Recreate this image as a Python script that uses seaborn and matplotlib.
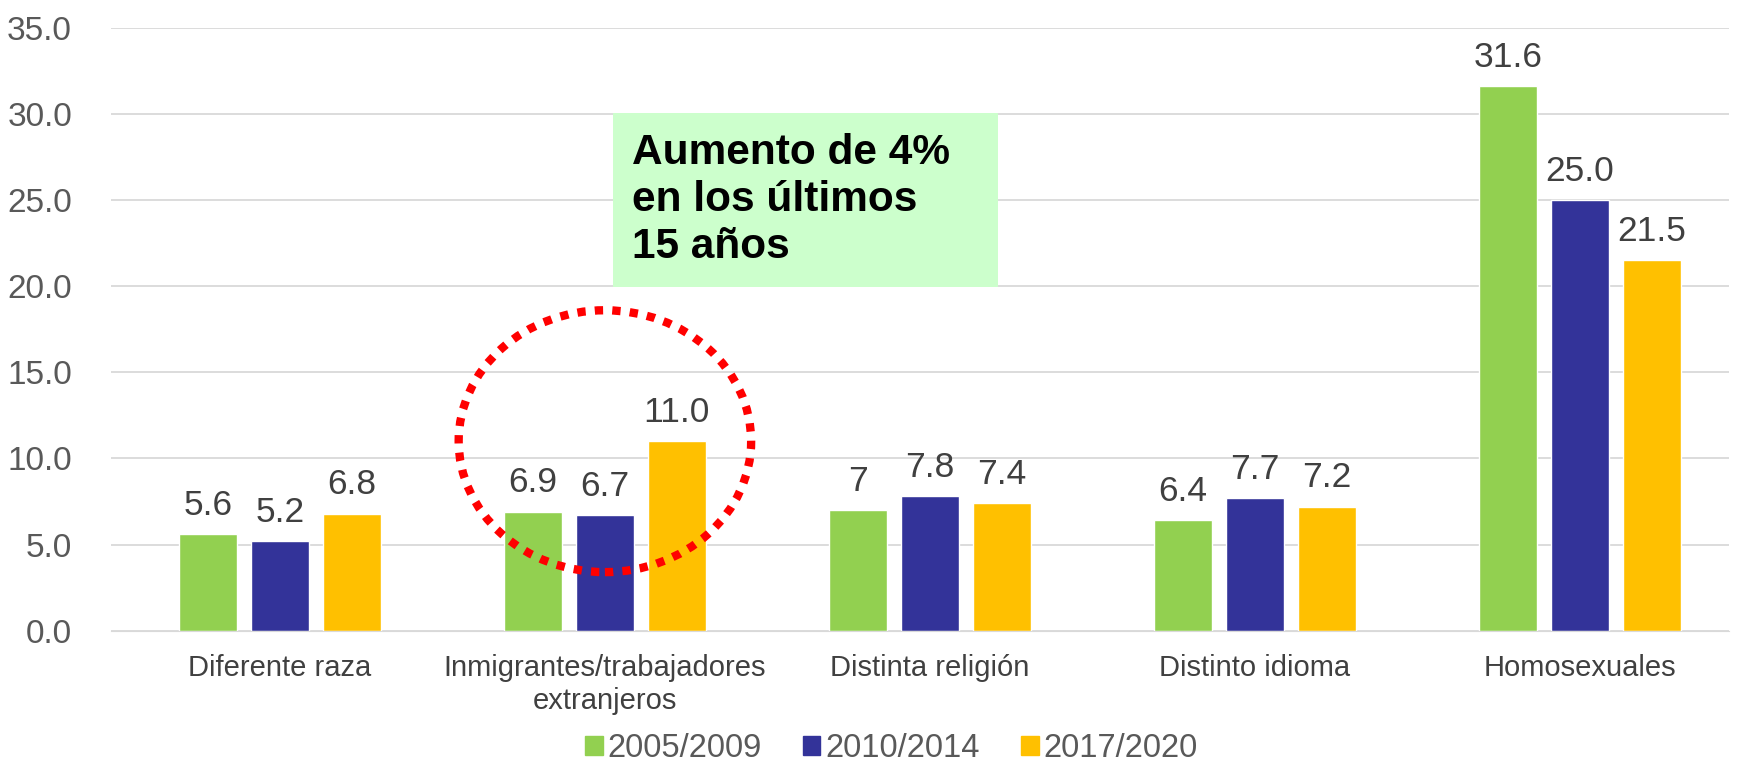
import pandas as pd
import matplotlib
matplotlib.use("Agg")
import matplotlib.pyplot as plt
from matplotlib.patches import Ellipse
import seaborn as sns

# data
categories = ["Diferente raza", "Inmigrantes/trabajadores\nextranjeros",
              "Distinta religión", "Distinto idioma", "Homosexuales"]
periods = ["2005/2009", "2010/2014", "2017/2020"]
v_2005 = [5.6, 6.9, 7.0, 6.4, 31.6]
v_2010 = [5.2, 6.7, 7.8, 7.7, 25.0]
v_2017 = [6.8, 11.0, 7.4, 7.2, 21.5]
labels_2005 = ["5.6", "6.9", "7", "6.4", "31.6"]
labels_2010 = ["5.2", "6.7", "7.8", "7.7", "25.0"]
labels_2017 = ["6.8", "11.0", "7.4", "7.2", "21.5"]
colors = ["#92D050", "#333399", "#FFC000"]

df = pd.DataFrame({
    "cat": categories * 3,
    "period": [periods[0]] * 5 + [periods[1]] * 5 + [periods[2]] * 5,
    "value": v_2005 + v_2010 + v_2017,
})

sns.set_style("white")
plt.rcParams["font.family"] = ["Liberation Sans", "DejaVu Sans"]

fig = plt.figure(figsize=(17.44, 7.71), dpi=100)
ax = fig.add_axes([0.0636, 0.182, 0.928, 0.782])

sns.barplot(data=df, x="cat", y="value", hue="period", order=categories,
            hue_order=periods, palette=colors, width=0.665, gap=0.19,
            saturation=1, ax=ax, legend=False)

for cont, labs in zip(ax.containers, [labels_2005, labels_2010, labels_2017]):
    ax.bar_label(cont, labels=labs, padding=9, fontsize=25.5, color="#404040")

ax.set_ylim(0, 35)
ax.set_xlim(-0.52, 4.46)
ax.set_yticks(range(0, 36, 5))
ax.set_yticklabels([f"{t:.1f}" for t in range(0, 36, 5)])
ax.yaxis.grid(True, color="#D9D9D9", lw=1.3)
ax.set_axisbelow(True)
for s in ["left", "right", "top"]:
    ax.spines[s].set_visible(False)
ax.spines["bottom"].set_color("#D9D9D9")
ax.tick_params(axis="y", labelsize=24, colors="#595959", length=0, pad=28)
ax.tick_params(axis="x", labelsize=21, colors="#404040", length=0, pad=17)
ax.set_xlabel("")
ax.set_ylabel("")

# red dotted circle around the immigrants group
circ = Ellipse((1.0, 11.0), width=0.9, height=15.2, fill=False,
               edgecolor="#FF0000", lw=6, linestyle=(0, (1, 1.1)), zorder=5)
ax.add_patch(circ)

# annotation box
fig.patches.append(plt.Rectangle((0.3515, 0.628), 0.2208, 0.226,
                                 transform=fig.transFigure, facecolor="#CCFFCC",
                                 edgecolor="none", zorder=0))
fig.text(0.3625, 0.741, "Aumento de 4%\nen los últimos\n15 años", fontsize=30.5,
         fontweight="bold", color="black", va="center", ha="left",
         linespacing=1.22)

handles = [plt.Rectangle((0, 0), 1, 1, color=c) for c in colors]
fig.legend(handles, periods, loc="lower center", bbox_to_anchor=(0.511, -0.008),
           ncol=3, frameon=False, fontsize=23.5, handlelength=0.55,
           handleheight=0.55, handletextpad=0.15, columnspacing=1.25,
           borderaxespad=0, labelcolor="#595959")

fig.savefig("out.png", dpi=100)
